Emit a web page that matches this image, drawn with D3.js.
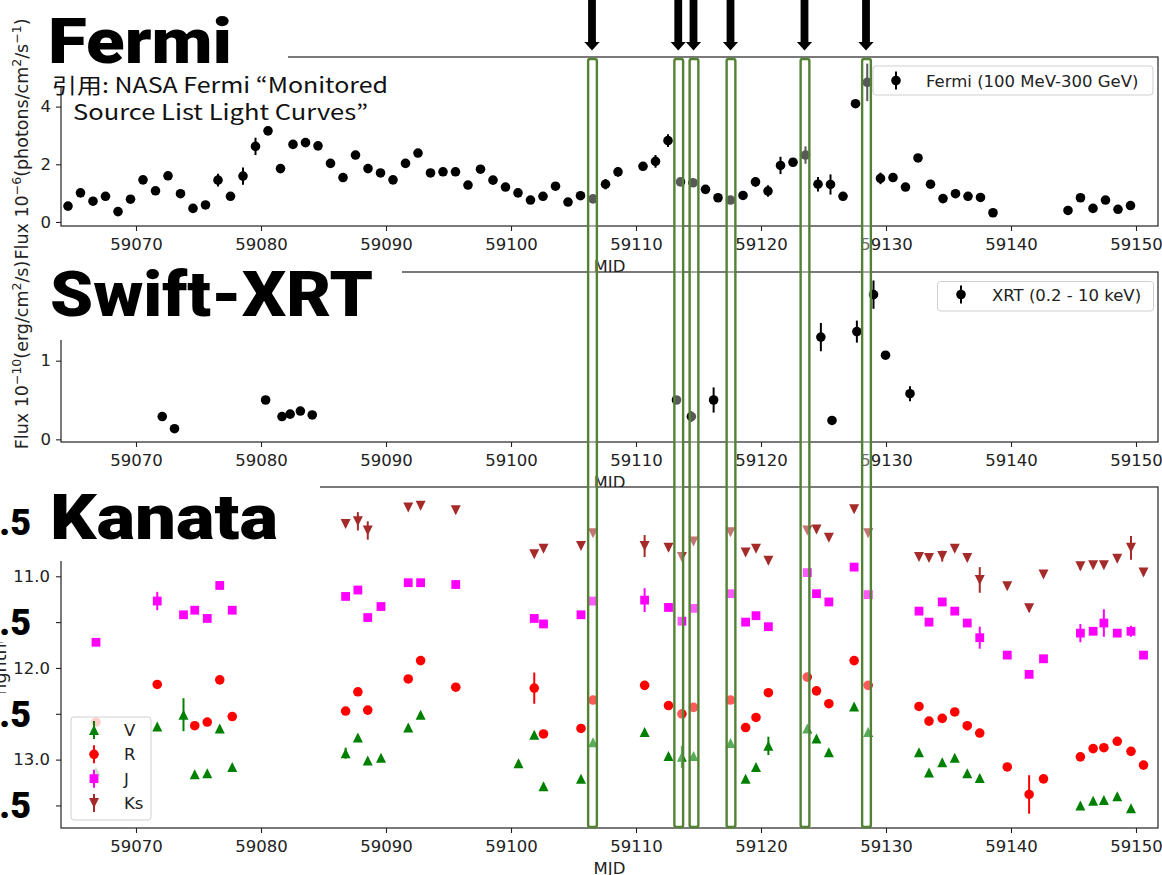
<!DOCTYPE html>
<html><head><meta charset="utf-8">
<script src="https://cdn.jsdelivr.net/npm/d3@7"></script>
<style>body{margin:0;background:#fff}svg{display:block}</style>
</head><body>
<svg id="c" width="1162" height="875"></svg>
<script>
// ---------------- data ----------------
const xTicks = [59070,59080,59090,59100,59110,59120,59130,59140,59150];
const spanMJD = [59106.52,59113.42,59114.64,59117.6,59123.52,59128.44];

const fermiMJD = [59064.56,59065.56,59066.56,59067.56,59068.56,59069.56,59070.56,59071.56,59072.56,59073.56,
59074.56,59075.56,59076.56,59077.56,59078.56,59079.56,59080.56,59081.56,59082.56,59083.56,
59084.56,59085.56,59086.56,59087.56,59088.56,59089.56,59090.56,59091.56,59092.56,59093.56,
59094.56,59095.56,59096.56,59097.56,59098.56,59099.56,59100.56,59101.56,59102.56,59103.56,
59104.56,59105.56,59106.56,59107.56,59108.56,59110.56,59111.56,59112.56,59113.56,59114.56,
59115.56,59116.56,59117.56,59118.56,59119.56,59120.56,59121.56,59122.56,59123.56,59124.56,
59125.56,59126.56,59127.56,59128.5,59129.56,59130.56,59131.56,59132.56,59133.56,59134.56,
59135.56,59136.56,59137.56,59138.56,59144.56,59145.56,59146.56,59147.56,59148.56,59149.56];
const fermiFlux = [0.55,1.01,0.72,0.89,0.36,0.79,1.46,1.08,1.60,0.98,
0.47,0.59,1.45,0.89,1.59,2.62,3.16,1.85,2.69,2.75,
2.64,2.03,1.54,2.32,1.85,1.70,1.46,2.03,2.39,1.70,
1.74,1.74,1.28,1.83,1.45,1.21,1.01,0.76,0.89,1.24,
0.69,0.91,0.80,1.31,1.74,1.93,2.10,2.82,1.39,1.36,
1.13,0.84,0.76,0.92,1.39,1.07,1.96,2.07,2.32,1.31,
1.30,0.89,4.10,4.84,1.51,1.54,1.21,2.22,1.31,0.81,
0.98,0.89,0.85,0.32,0.40,0.84,0.47,0.76,0.44,0.57];
const fermiErr = [0.1,0.12,0.1,0.1,0.08,0.1,0.12,0.1,0.12,0.1,
0.08,0.1,0.22,0.1,0.3,0.3,0.12,0.12,0.12,0.12,
0.12,0.1,0.1,0.12,0.1,0.1,0.1,0.12,0.14,0.1,
0.1,0.1,0.1,0.1,0.1,0.1,0.1,0.1,0.1,0.12,
0.1,0.1,0.1,0.18,0.17,0.12,0.22,0.22,0.1,0.1,
0.1,0.1,0.1,0.1,0.17,0.2,0.3,0.12,0.3,0.25,
0.35,0.15,0.12,0.65,0.2,0.12,0.1,0.12,0.1,0.1,
0.1,0.1,0.1,0.08,0.08,0.1,0.08,0.1,0.08,0.1];

const xrtMJD = [59072.1,59073.08,59080.37,59081.68,59082.33,59083.15,59084.1,59113.24,59114.43,59116.21,59124.79,59125.68,59127.67,59129.0,59129.96,59131.92];
const xrtFlux = [0.29,0.135,0.50,0.29,0.32,0.36,0.31,0.50,0.29,0.50,1.30,0.24,1.37,1.84,1.07,0.58];
const xrtErr = [0.03,0.03,0.03,0.03,0.03,0.03,0.03,0.04,0.07,0.16,0.18,0.03,0.14,0.18,0.03,0.095];

const vMJD = [59066.8,59071.7,59073.8,59074.7,59075.7,59076.7,59077.7,59086.77,59087.75,59088.54,59089.6,59091.78,59092.77,59100.6,59101.86,59102.6,59105.6,59106.56,59110.69,59112.6,59113.67,59114.6,59117.56,59118.77,59119.6,59120.59,59123.7,59124.44,59125.43,59127.45,59128.57,59132.64,59133.44,59134.5,59135.5,59136.5,59137.5,59145.55,59146.57,59147.43,59148.5,59149.6];
const vMag = [13.13,12.64,12.51,13.16,13.15,12.66,13.08,12.93,12.76,13.01,12.98,12.65,12.51,13.04,12.73,13.29,13.21,12.81,12.70,12.96,12.97,12.96,12.82,13.21,13.08,12.85,12.66,12.77,12.92,12.42,12.70,12.92,13.14,13.03,12.98,13.15,13.20,13.50,13.45,13.44,13.40,13.53];
const vErr = [0.03,0.03,0.18,0.03,0.03,0.03,0.03,0.06,0.03,0.03,0.03,0.03,0.03,0.03,0.03,0.03,0.03,0.03,0.03,0.03,0.12,0.03,0.03,0.03,0.03,0.1,0.03,0.03,0.03,0.03,0.03,0.03,0.03,0.03,0.03,0.03,0.03,0.03,0.03,0.03,0.03,0.03];

const rMJD = [59066.8,59071.7,59074.7,59075.7,59076.7,59077.7,59086.77,59087.75,59088.54,59091.78,59092.77,59095.58,59101.86,59102.6,59105.6,59106.56,59110.69,59112.6,59113.67,59114.6,59117.56,59118.77,59119.6,59120.59,59123.7,59124.44,59125.43,59127.45,59128.57,59132.64,59133.44,59134.5,59135.5,59136.5,59137.5,59139.7,59141.45,59142.6,59145.55,59146.57,59147.43,59148.5,59149.6,59150.6];
const rMag = [12.59,12.18,12.63,12.59,12.13,12.53,12.47,12.26,12.46,12.12,11.92,12.21,12.22,12.72,12.66,12.35,12.19,12.41,12.50,12.43,12.35,12.65,12.54,12.27,12.10,12.25,12.39,11.92,12.19,12.42,12.58,12.55,12.48,12.63,12.71,13.08,13.38,13.21,12.97,12.88,12.87,12.80,12.91,13.06];
const rErr = [0.03,0.03,0.03,0.03,0.03,0.03,0.03,0.03,0.03,0.03,0.04,0.03,0.17,0.03,0.03,0.03,0.03,0.03,0.05,0.03,0.03,0.03,0.03,0.03,0.03,0.03,0.03,0.03,0.03,0.03,0.03,0.03,0.03,0.05,0.03,0.03,0.21,0.03,0.03,0.03,0.03,0.03,0.03,0.03];

const jMJD = [59066.8,59071.7,59073.8,59074.7,59075.7,59076.7,59077.7,59086.77,59087.75,59088.54,59089.6,59091.78,59092.77,59095.58,59101.86,59102.6,59105.6,59106.56,59110.69,59112.6,59113.67,59114.6,59117.56,59118.77,59119.6,59120.59,59123.7,59124.44,59125.43,59127.45,59128.57,59132.64,59133.44,59134.5,59135.5,59136.5,59137.5,59139.7,59141.45,59142.6,59145.55,59146.57,59147.43,59148.5,59149.6,59150.6];
const jMag = [11.72,11.27,11.42,11.37,11.46,11.10,11.37,11.22,11.15,11.45,11.33,11.07,11.07,11.09,11.46,11.52,11.42,11.27,11.26,11.34,11.49,11.35,11.19,11.50,11.43,11.55,10.96,11.19,11.28,10.90,11.20,11.38,11.50,11.28,11.38,11.51,11.67,11.86,12.07,11.90,11.62,11.60,11.51,11.62,11.60,11.86];
const jErr = [0.03,0.1,0.03,0.03,0.03,0.03,0.03,0.03,0.03,0.03,0.03,0.03,0.03,0.03,0.03,0.03,0.03,0.03,0.13,0.04,0.03,0.03,0.03,0.03,0.03,0.03,0.03,0.03,0.03,0.03,0.03,0.03,0.03,0.03,0.03,0.03,0.12,0.03,0.03,0.03,0.1,0.03,0.15,0.03,0.06,0.03];

const ksMJD = [59086.77,59087.75,59088.54,59091.78,59092.77,59095.58,59101.86,59102.6,59105.6,59106.56,59110.69,59112.6,59113.67,59114.6,59117.56,59118.77,59119.6,59120.59,59123.7,59124.44,59125.43,59127.45,59128.57,59132.64,59133.44,59134.5,59135.5,59136.5,59137.5,59139.7,59141.45,59142.6,59145.55,59146.57,59147.43,59148.5,59149.6,59150.6];
const ksMag = [10.43,10.40,10.50,10.25,10.23,10.28,10.76,10.70,10.67,10.53,10.67,10.69,10.79,10.62,10.52,10.74,10.70,10.83,10.50,10.49,10.58,10.27,10.53,10.79,10.80,10.78,10.70,10.80,11.04,11.11,11.35,10.98,10.89,10.88,10.88,10.81,10.69,10.96];
const ksErr = [0.03,0.1,0.1,0.03,0.03,0.03,0.03,0.03,0.03,0.03,0.12,0.03,0.03,0.03,0.03,0.03,0.03,0.03,0.03,0.03,0.03,0.03,0.03,0.03,0.03,0.06,0.03,0.03,0.14,0.03,0.04,0.03,0.04,0.03,0.03,0.03,0.13,0.03];

const fermiYTicks = [0,2,4];
const xrtYTicks = [0,1];
const kanataYTicks = [10.5,11.0,11.5,12.0,12.5,13.0,13.5];
const kanataBands = ["V","R","J","Ks"];

// ---------------- drawing ----------------
const svg = d3.select('#c');
const FONT = "'DejaVu Sans', sans-serif";
const TITLEFONT = "Roboto, 'Liberation Sans', Arial, sans-serif";
const INK = '#222';
const GREEN = '#548235';
const L = 61, R = 1158;
const x = d3.scaleLinear().domain([59064, 59151.76]).range([L, R]);

const shapes = {
  circle: r => `M${-r},0a${r},${r} 0 1,0 ${2*r},0a${r},${r} 0 1,0 ${-2*r},0Z`,
  square: r => `M${-r},${-r}H${r}V${r}H${-r}Z`,
  up: r => `M0,${-r}L${r},${r}L${-r},${r}Z`,
  down: r => `M0,${r}L${r},${-r}L${-r},${-r}Z`
};

function panel(top, bottom, yDomain, yTicks, fmt, bg, ypad) {
  const y = d3.scaleLinear().domain(yDomain).range([bottom, top]);
  const g = svg.append('g');
  if (bg) g.append('rect').attr('x', L).attr('y', top).attr('width', R - L).attr('height', bottom - top).attr('fill', '#fff');
  const xa = g.append('g').attr('transform', `translate(0,${bottom})`)
    .call(d3.axisBottom(x).tickValues(xTicks).tickSize(5).tickSizeOuter(0).tickPadding(7.5).tickFormat(d3.format('d')));
  const ya = g.append('g').attr('transform', `translate(${L},0)`)
    .call(d3.axisLeft(y).tickValues(yTicks).tickSize(5).tickSizeOuter(0).tickPadding(ypad).tickFormat(fmt));
  [xa, ya].forEach(a => {
    a.select('.domain').remove();
    a.selectAll('line').attr('stroke', INK).attr('stroke-width', 1.1);
    a.selectAll('text').attr('fill', INK).style('font-family', FONT).style('font-size', '16.5px');
  });
  g.append('rect').attr('x', L).attr('y', top).attr('width', R - L).attr('height', bottom - top)
    .attr('fill', 'none').attr('stroke', INK).attr('stroke-width', 1.2);
  g.append('text').attr('x', (L + R) / 2).attr('y', bottom + 46).attr('text-anchor', 'middle')
    .attr('fill', INK).style('font-family', FONT).style('font-size', '16.5px').text('MJD');
  const plot = g.append('g');
  return {y, g, plot};
}

function series(p, mjd, val, err, color, shape, r) {
  const data = mjd.map((m, i) => ({m, v: val[i], e: err[i]}));
  p.plot.append('g').selectAll('line').data(data).join('line')
    .attr('x1', d => x(d.m)).attr('x2', d => x(d.m))
    .attr('y1', d => p.y(d.v - d.e)).attr('y2', d => p.y(d.v + d.e))
    .attr('stroke', color).attr('stroke-width', 2);
  p.plot.append('g').selectAll('path').data(data).join('path')
    .attr('transform', d => `translate(${x(d.m)},${p.y(d.v)})`)
    .attr('d', shapes[shape](r)).attr('fill', color);
}

function legendBox(g, x0, y0, w, h) {
  g.append('rect').attr('x', x0).attr('y', y0).attr('width', w).attr('height', h).attr('rx', 3)
    .attr('fill', 'rgba(255,255,255,0.8)').attr('stroke', '#d0d0d0').attr('stroke-width', 1);
}
function legendItem(g, mx, my, tx, color, shape, r, label) {
  g.append('line').attr('x1', mx).attr('x2', mx).attr('y1', my - 9).attr('y2', my + 9).attr('stroke', color).attr('stroke-width', 2);
  g.append('path').attr('transform', `translate(${mx},${my})`).attr('d', shapes[shape](r)).attr('fill', color);
  g.append('text').attr('x', tx).attr('y', my + 6).attr('fill', INK)
    .style('font-family', FONT).style('font-size', '16.5px').text(label);
}

// Fermi
const pF = panel(57, 226, [-0.14, 5.72], fermiYTicks, d3.format('d'), false, 5);
series(pF, fermiMJD, fermiFlux, fermiErr, '#000', 'circle', 4.8);
legendBox(pF.g, 873, 66, 280, 29);
legendItem(pF.g, 896, 80.5, 926, '#000', 'circle', 4.8, 'Fermi (100 MeV-300 GeV)');

// Swift-XRT
const pS = panel(272, 442, [-0.034, 2.128], xrtYTicks, d3.format('d'), true, 5);
series(pS, xrtMJD, xrtFlux, xrtErr, '#000', 'circle', 4.8);
legendBox(pS.g, 937.5, 281.5, 216, 29.5);
legendItem(pS.g, 961, 294.5, 992, '#000', 'circle', 4.8, 'XRT (0.2 - 10 keV)');

// Kanata
const pK = panel(487, 828, [13.746, 10.026], kanataYTicks, d => (Number.isInteger(d) ? d3.format('.1f')(d) : ''), true, 6);
series(pK, ksMJD, ksMag, ksErr, '#a52a2a', 'down', 5);
series(pK, jMJD, jMag, jErr, '#ff00ff', 'square', 4.4);
series(pK, rMJD, rMag, rErr, '#ff0000', 'circle', 4.8);
series(pK, vMJD, vMag, vErr, '#008000', 'up', 5);
legendBox(pK.g, 71, 717, 80, 103);
const kStyle = {V: ['#008000', 'up', 5], R: ['#ff0000', 'circle', 4.8], J: ['#ff00ff', 'square', 4.4], Ks: ['#a52a2a', 'down', 5]};
const kY = d3.scalePoint().domain(kanataBands).range([730, 803]);
kanataBands.forEach(b => legendItem(pK.g, 94, kY(b), 124, kStyle[b][0], kStyle[b][1], kStyle[b][2], b));

// y labels
function ylabel(xp, yc, parts) {
  const t = svg.append('text').attr('transform', `translate(${xp},${yc}) rotate(-90)`).attr('text-anchor', 'middle')
    .attr('fill', INK).style('font-family', FONT).style('font-size', '17.5px');
  let prevSup = false;
  parts.forEach(([s, sup]) => {
    const isSup = !!sup;
    const dy = isSup && !prevSup ? -7.5 : (!isSup && prevSup ? 7.5 : 0);
    const ts = t.append('tspan').attr('dy', dy).text(s);
    if (isSup) ts.style('font-size', '12.5px');
    prevSup = isSup;
  });
}
ylabel(28, 139, [['Flux 10'], ['\u22126', 1], ['(photons/cm'], ['2', 1], ['/s'], ['\u22121', 1], [')']]);
ylabel(28, 355, [['Flux 10'], ['\u221210', 1], ['(erg/cm'], ['2', 1], ['/s)']]);
ylabel(6, 661, [['Brightness']]);

// big overlaid ".5" labels (pasted tick labels)
const halfTicks = kanataYTicks.filter(d => !Number.isInteger(d));
halfTicks.forEach(d => {
  const yy = pK.y(d);
  if (d > 10.6) svg.append('rect').attr('x', 0).attr('y', yy - 21).attr('width', 35).attr('height', 41).attr('fill', '#fff');
  svg.append('text').attr('x', 31).attr('y', yy + (d > 10.6 ? 13 : 5)).attr('text-anchor', 'end')
    .style('font-family', TITLEFONT).style('font-weight', 900).style('font-size', '36px').attr('fill', '#000')
    .text(d3.format('.1f')(d));
});

// title boxes and titles
const titles = [
  {t: 'Fermi', x: 48, base: 63, len: 184, box: [36, 0, 252, 87]},
  {t: 'Swift-XRT', x: 50, base: 316, len: 323, box: [36, 256, 366, 84]},
  {t: 'Kanata', x: 50, base: 539, len: 228, box: [36, 475, 284, 86]}
];
titles.forEach(o => {
  svg.append('rect').attr('x', o.box[0]).attr('y', o.box[1]).attr('width', o.box[2]).attr('height', o.box[3]).attr('fill', '#fff');
  svg.append('text').attr('x', o.x).attr('y', o.base).attr('textLength', o.len).attr('lengthAdjust', 'spacingAndGlyphs')
    .style('font-family', TITLEFONT).style('font-weight', 900).style('font-size', '63px').attr('fill', '#000').text(o.t);
});
const CJK = "'Noto Sans CJK JP', 'Noto Sans', sans-serif";
svg.append('text').attr('x', 52).attr('y', 93).attr('textLength', 336).attr('lengthAdjust', 'spacingAndGlyphs')
  .style('font-family', CJK).style('font-size', '21px').attr('fill', '#111').text('引用: NASA Fermi \u201CMonitored');
svg.append('text').attr('x', 73).attr('y', 120).attr('textLength', 295).attr('lengthAdjust', 'spacingAndGlyphs')
  .style('font-family', CJK).style('font-size', '21px').attr('fill', '#111').text('Source List Light Curves\u201D');

// highlighted spans and arrows
const hw = 0.35 * (x(1) - x(0));
svg.append('g').selectAll('rect').data(spanMJD).join('rect')
  .attr('x', d => x(d) - hw).attr('y', 59).attr('width', 2 * hw).attr('height', 827 - 59).attr('rx', 2)
  .attr('fill', 'rgba(255,255,255,0.35)').attr('stroke', GREEN).attr('stroke-width', 2.4);
svg.append('g').selectAll('path').data(spanMJD).join('path')
  .attr('d', d => { const c = x(d) - 0.5; return `M${c-3.9},0H${c+3.9}V42H${c+7.6}L${c},50.5L${c-7.6},42H${c-3.9}Z`; })
  .attr('fill', '#000');
</script>
</body></html>
